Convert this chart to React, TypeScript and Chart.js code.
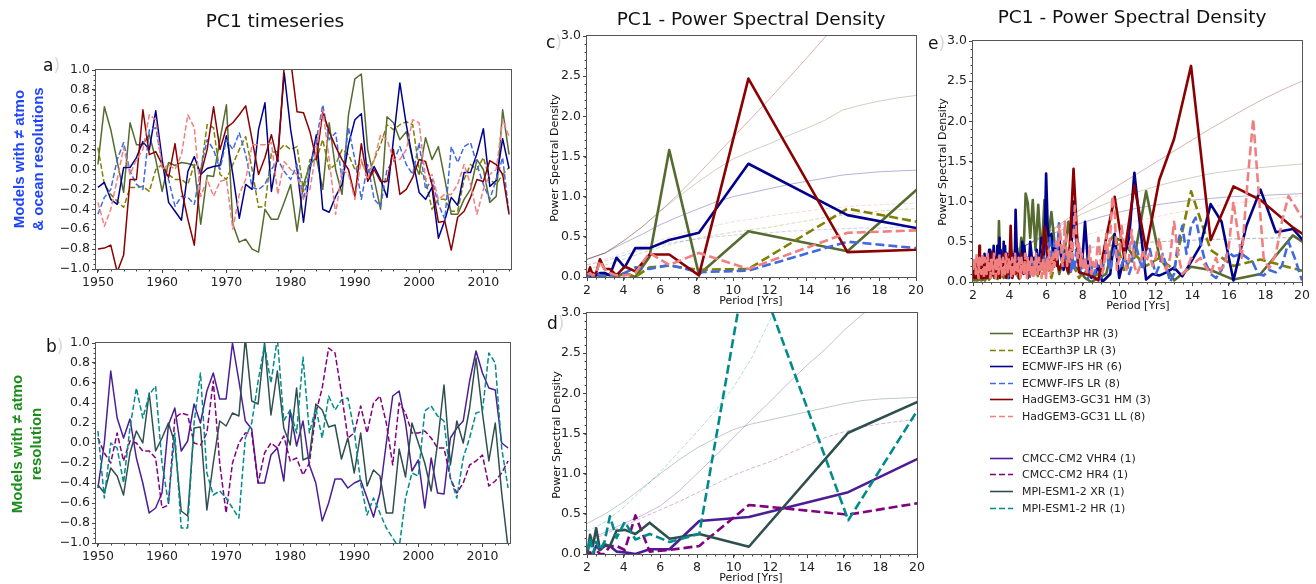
import React, { useEffect, useRef } from "react";
import { Chart, registerables } from "chart.js";

Chart.register(...registerables);

// ------------------------------------------------------------------ data
const years = [
  1950, 1951, 1952, 1953, 1954, 1955, 1956, 1957, 1958, 1959,
  1960, 1961, 1962, 1963, 1964, 1965, 1966, 1967, 1968, 1969,
  1970, 1971, 1972, 1973, 1974, 1975, 1976, 1977, 1978, 1979,
  1980, 1981, 1982, 1983, 1984, 1985, 1986, 1987, 1988, 1989,
  1990, 1991, 1992, 1993, 1994, 1995, 1996, 1997, 1998, 1999,
  2000, 2001, 2002, 2003, 2004, 2005, 2006, 2007, 2008, 2009,
  2010, 2011, 2012, 2013, 2014,
];
const yearTicks = [1950, 1960, 1970, 1980, 1990, 2000, 2010];
const pcTicks = [-1.0, -0.8, -0.6, -0.4, -0.2, 0.0, 0.2, 0.4, 0.6, 0.8, 1.0];
const psdTicks = [0, 0.5, 1.0, 1.5, 2.0, 2.5, 3.0];
const periodTicks = [2, 4, 6, 8, 10, 12, 14, 16, 18, 20];

// panel a: PC1 timeseries
const a_ecHR = [
  0.05, 0.63, 0.40, 0.08, -0.23, 0.47, 0.25, 0.25, 0.35, 0.10,
  -0.22, 0.07, 0.04, 0.07, 0.06, 0.04, -0.55, -0.06, -0.07, 0.30,
  0.65, -0.55, -0.73, -0.70, -0.80, -0.83, -0.40, -0.50, -0.50, -0.33,
  -0.15, -0.62, -0.15, 0.05, 0.12, -0.20, 0.47, 0.00, -0.25, 0.55,
  0.91, 0.96, 0.20, -0.10, -0.40, 0.53, 0.47, 0.30, 0.38, 0.10,
  -0.05, 0.32, 0.10, 0.23, -0.10, -0.45, -0.45, -0.30, -0.20, 0.10,
  0.00, -0.33, -0.27, 0.60, 0.15,
];
const a_ecLR = [
  0.22, -0.15, -0.25, -0.32, -0.38, -0.18, -0.18, -0.17, -0.22, 0.00,
  0.05, -0.05, -0.10, -0.10, -0.15, 0.05, -0.02, 0.45, 0.42, -0.05,
  -0.10, 0.05, 0.20, 0.33, 0.00, -0.38, -0.37, 0.17, 0.18, 0.25,
  0.20, 0.23, -0.22, 0.10, 0.10, 0.30, 0.00, 0.05, 0.20, 0.15,
  0.00, 0.08, -0.05, 0.10, 0.25, 0.45, 0.40, 0.45, 0.48, 0.45,
  0.00, -0.10, -0.40, -0.30, -0.30, -0.42, -0.42, -0.10, 0.05, 0.00,
  0.12, -0.10, -0.15, -0.05, 0.02,
];
const a_ifsHR = [
  -0.18, -0.13, -0.30, -0.35, 0.02, 0.02, 0.12, 0.28, 0.20, 0.59,
  0.10, -0.33, -0.42, -0.51, -0.02, 0.13, -0.05, 0.01, 0.03, 0.04,
  0.34, -0.05, -0.49, -0.15, -0.20, 0.40, 0.67, -0.22, 0.15, 0.97,
  0.40, 0.00, -0.53, 0.00, 0.35, -0.40, -0.43, -0.27, -0.15, 0.25,
  0.50, 0.56, -0.10, 0.03, -0.10, -0.28, 0.30, 0.87, 0.45, 0.10,
  -0.23, -0.30, -0.18, -0.69, -0.51, -0.28, -0.36, -0.03, -0.03, 0.16,
  0.41, -0.17, -0.11, 0.31, 0.01,
];
const a_ifsLR = [
  -0.45, -0.28, -0.20, 0.10, 0.27, -0.02, -0.15, -0.20, 0.40, 0.42,
  0.05, -0.10, -0.37, -0.27, -0.28, -0.35, 0.00, 0.30, 0.20, 0.00,
  0.30, 0.20, 0.37, 0.15, -0.18, -0.20, -0.15, 0.00, 0.10, -0.02,
  -0.10, 0.05, -0.30, 0.00, 0.30, 0.65, 0.30, 0.37, -0.10, 0.42,
  0.10, -0.30, 0.05, -0.30, -0.37, 0.00, 0.08, 0.23, 0.05, -0.05,
  0.27, -0.20, -0.10, -0.35, -0.50, 0.23, 0.07, 0.23, 0.27, 0.05,
  -0.15, -0.30, -0.10, 0.12, -0.45,
];
const a_hmHR = [
  -0.80, -0.79, -0.76, -1.03, -0.86, -0.10, -0.10, 0.60, 0.15, 0.18,
  0.05, -0.08, 0.26, -0.20, -0.50, -0.76, -0.05, 0.20, 0.63, 0.20,
  0.42, 0.47, 0.55, 0.64, 0.30, -0.05, 0.12, 0.35, 0.08, 1.05,
  1.10, 0.58, 0.57, 0.38, 0.10, 0.58, 0.38, 0.23, 0.10, 0.00,
  -0.27, 0.26, -0.12, 0.00, -0.12, -0.12, 0.20, -0.25, -0.20, -0.08,
  0.10, 0.08, -0.15, -0.53, -0.52, -0.81, -0.48, -0.42, -0.28, -0.10,
  -0.12, 0.09, 0.05, -0.05, -0.45,
];
const a_llLR = [
  -0.33, -0.57, -0.40, -0.10, 0.22, -0.05, 0.10, 0.20, 0.55, 0.50,
  0.00, 0.05, 0.00, 0.15, 0.55, 0.42, -0.27, -0.10, -0.27, -0.12,
  -0.10, -0.60, -0.25, -0.10, 0.25, 0.25, 0.25, 0.27, -0.25, 0.08,
  0.00, -0.05, -0.30, -0.20, 0.20, 0.60, 0.10, -0.45, 0.00, -0.05,
  -0.30, 0.10, -0.10, 0.10, 0.35, 0.30, 0.10, 0.10, 0.20, 0.50,
  0.47, -0.10, -0.05, -0.30, -0.25, -0.25, -0.15, 0.05, -0.15, -0.45,
  -0.20, -0.05, 0.00, 0.50, 0.33,
];

// panel b: PC1 timeseries
const b_cmVHR = [
  -0.45, 0.00, 0.72, 0.25, 0.05, 0.24, -0.15, -0.40, -0.70, -0.65,
  -0.50, 0.18, 0.35, -0.08, 0.02, 0.39, 0.20, 0.52, 0.70, 0.44,
  0.44, 1.00, 0.62, 0.22, 0.14, -0.40, -0.40, -0.12, -0.05, -0.38,
  0.32, -0.03, 0.22, -0.22, -0.40, -0.78, -0.60, -0.36, -0.36, -0.45,
  -0.40, -0.37, -0.55, -0.74, -0.50, 0.00, 0.47, 0.52, 0.20, -0.28,
  -0.17, -0.65, -0.15, -0.50, -0.51, 0.05, 0.15, 0.22, 0.62, 0.92,
  0.70, 0.55, 0.53, 0.00, -0.05,
];
const b_cmHR = [
  0.05, -0.10, -0.20, 0.10, -0.18, 0.02, 0.00, -0.08, -0.08, -0.15,
  -0.65, -0.62, 0.25, 0.30, 0.28, 0.00, -0.02, 0.10, 0.62, -0.20,
  -0.70, -0.20, 0.00, 0.10, 0.10, -0.40, -0.10, 0.00, -0.05, 0.07,
  -0.18, -0.15, -0.32, -0.20, 0.30, 0.55, 0.95, 0.90, 0.50, 0.05,
  0.10, 0.37, 0.10, 0.40, 0.47, 0.20, -0.22, 0.40, 0.30, 0.10,
  0.10, 0.12, 0.05, -0.05, -0.05, -0.35, -0.50, -0.40, -0.22, -0.18,
  -0.12, -0.43, -0.38, -0.30, -0.18,
];
const b_mpiXR = [
  -0.42, -0.50, -0.25, -0.33, -0.52, -0.10, 0.12, 0.00, 0.50, -0.08,
  0.05, 0.20, 0.00, -0.68, -0.73, 0.15, 0.16, -0.67, -0.20, 0.22,
  0.17, 0.30, 0.27, 1.05, 0.42, 0.39, 1.00, 0.28, 0.72, 0.15,
  -0.02, 0.55, -0.17, -0.14, 0.39, 0.33, 0.16, 0.18, -0.16, 0.05,
  -0.30, 0.10, -0.43, -0.27, -0.33, -0.70, -0.70, -0.06, -0.34, 0.20,
  0.00, -0.20, -0.48, 0.00, 0.58, -0.22, 0.22, 0.00, 0.35, 0.85,
  0.30, -0.18, 0.20, -0.50, -1.05,
];
const b_mpiHR = [
  0.12, -0.55, 0.00, -0.05, -0.40, 0.15, 0.55, 0.25, 0.48, 0.57,
  -0.20, -0.60, 0.10, -0.85, -0.85, 0.20, 0.70, -0.30, -0.52, -0.48,
  -0.55, -0.65, -0.75, 0.05, 0.20, 0.62, 0.98, 0.60, 1.05, 0.22,
  0.33, 0.10, 0.86, 0.10, 0.35, 0.05, 0.47, 0.33, 0.43, 0.45,
  0.12, -0.40, -0.72, -0.55, -0.70, -0.85, -0.95, -1.05, -0.55, -0.30,
  -0.33, 0.32, 0.37, 0.27, 0.22, -0.35, -0.55, -0.15, 0.05, 0.30,
  0.32, 0.90, 0.80, -0.05, -0.45,
];

// panels c, d: power spectra (ensemble-member periodogram periods, years)
const psdPeriods = [32.5, 16.25, 10.83, 8.125, 6.5, 5.417, 4.643, 4.063, 3.611, 3.25, 2.955, 2.708, 2.5, 2.321, 2.167, 2.031];
const c_ecHR = [3.61, 0.32, 0.57, 0.03, 1.58, 0.25, 0.0, 0.05, 0.0, 0.03, 0.02, 0.01, 0.03, 0.0, 0.02, 0.01];
const c_ecLR = [0.157, 0.85, 0.1, 0.09, 0.14, 0.12, 0.0, 0.04, 0.03, 0.02, 0.05, 0.02, 0.01, 0.02, 0.0, 0.01];
const c_ifsHR = [0.077, 0.77, 1.41, 0.55, 0.46, 0.36, 0.36, 0.12, 0.24, 0.02, 0.05, 0.05, 0.02, 0.05, 0.01, 0.0];
const c_ifsLR = [0.093, 0.44, 0.08, 0.06, 0.15, 0.1, 0.12, 0.05, 0.02, 0.03, 0.01, 0.02, 0.05, 0.01, 0.03, 0.0];
const c_hmHR = [0.44, 0.31, 2.47, 0.02, 0.28, 0.28, 0.07, 0.13, 0.02, 0.1, 0.1, 0.22, 0.05, 0.02, 0.12, 0.02];
const c_llLR = [0.68, 0.55, 0.1, 0.3, 0.15, 0.3, 0.05, 0.02, 0.02, 0.05, 0.1, 0.2, 0.05, 0.02, 0.05, 0.03];

const d_cmVHR = [2.55, 0.77, 0.46, 0.41, 0.06, 0.06, 0.0, 0.02, 0.03, 0.1, 0.1, 0.05, 0.1, 0.0, 0.0, 0.0];
const d_cmHR = [1.1, 0.49, 0.61, 0.1, 0.05, 0.03, 0.48, 0.05, 0.1, 0.1, 0.0, 0.0, 0.05, 0.0, 0.02, 0.0];
const d_mpiXR = [3.16, 1.51, 0.09, 0.25, 0.19, 0.39, 0.25, 0.3, 0.29, 0.1, 0.12, 0.05, 0.32, 0.1, 0.24, 0.0];
const d_mpiHR = [6.31, 0.42, 3.8, 0.25, 0.15, 0.25, 0.18, 0.4, 0.2, 0.47, 0.15, 0.05, 0.15, 0.0, 0.2, 0.05];

// red-noise significance curves
const sigPeriods = [2, 3, 4, 5, 6, 7, 8, 9, 10, 11, 12, 13, 14, 15, 16, 17, 18, 19, 20];
const cSig_ecHR = [0.22, 0.30, 0.45, 0.62, 0.82, 1.00, 1.17, 1.33, 1.47, 1.57, 1.66, 1.76, 1.85, 1.95, 2.08, 2.14, 2.19, 2.23, 2.26];
const cSig_ecLR = [0.10, 0.15, 0.22, 0.30, 0.37, 0.43, 0.48, 0.52, 0.56, 0.59, 0.62, 0.66, 0.70, 0.74, 0.77, 0.80, 0.82, 0.84, 0.85];
const cSig_ifsHR = [0.22, 0.30, 0.42, 0.53, 0.65, 0.75, 0.84, 0.93, 1.00, 1.05, 1.10, 1.15, 1.19, 1.23, 1.27, 1.29, 1.31, 1.32, 1.33];
const cSig_ifsLR = [0.15, 0.20, 0.27, 0.34, 0.40, 0.44, 0.47, 0.50, 0.52, 0.54, 0.55, 0.57, 0.58, 0.59, 0.60, 0.61, 0.61, 0.62, 0.62];
const cSig_hmHR = [0.22, 0.30, 0.45, 0.62, 0.82, 1.03, 1.26, 1.50, 1.74, 1.98, 2.22, 2.47, 2.72, 2.98, 3.23, 3.48, 3.70, 3.90, 4.10];
const cSig_llLR = [0.15, 0.22, 0.30, 0.38, 0.46, 0.53, 0.59, 0.64, 0.69, 0.72, 0.76, 0.79, 0.82, 0.85, 0.87, 0.89, 0.90, 0.91, 0.92];

const dSig_cmVHR = [0.18, 0.27, 0.38, 0.48, 0.60, 0.78, 1.00, 1.22, 1.45, 1.68, 1.90, 2.13, 2.35, 2.55, 2.78, 2.98, 3.15];
const dSig_cmHR = [0.15, 0.25, 0.35, 0.45, 0.55, 0.65, 0.76, 0.87, 0.98, 1.07, 1.15, 1.25, 1.35, 1.45, 1.52, 1.58, 1.62, 1.65, 1.68];
const dSig_mpiXR = [0.38, 0.50, 0.65, 0.82, 1.00, 1.17, 1.32, 1.44, 1.55, 1.62, 1.67, 1.72, 1.77, 1.82, 1.87, 1.91, 1.93, 1.94, 1.95];
const dSig_mpiHR = [0.28, 0.40, 0.58, 0.80, 1.02, 1.27, 1.52, 1.78, 2.08, 2.45, 2.92, 3.35, 3.75];

const eSig_ecHR = [0.22, 0.28, 0.36, 0.47, 0.60, 0.73, 0.85, 0.95, 1.04, 1.12, 1.19, 1.25, 1.30, 1.35, 1.38, 1.41, 1.43, 1.45, 1.47];
const eSig_ecLR = [0.12, 0.17, 0.22, 0.28, 0.33, 0.37, 0.41, 0.44, 0.46, 0.48, 0.50, 0.51, 0.52, 0.53, 0.54, 0.54, 0.55, 0.55, 0.55];
const eSig_ifsHR = [0.25, 0.30, 0.38, 0.47, 0.57, 0.66, 0.74, 0.81, 0.87, 0.92, 0.96, 0.99, 1.02, 1.04, 1.06, 1.07, 1.08, 1.09, 1.10];
const eSig_ifsLR = [0.15, 0.20, 0.25, 0.30, 0.35, 0.39, 0.42, 0.45, 0.47, 0.49, 0.50, 0.51, 0.52, 0.53, 0.53, 0.54, 0.54, 0.55, 0.55];
const eSig_hmHR = [0.22, 0.28, 0.36, 0.47, 0.60, 0.76, 0.92, 1.07, 1.21, 1.35, 1.49, 1.63, 1.77, 1.91, 2.04, 2.17, 2.29, 2.40, 2.50];
const eSig_llLR = [0.18, 0.22, 0.28, 0.35, 0.42, 0.50, 0.57, 0.64, 0.70, 0.76, 0.81, 0.86, 0.90, 0.94, 0.97, 1.00, 1.03, 1.05, 1.07];

// panel e: concatenated-member spectra
const ePeriods3 = [
  21.67, 19.5, 17.73, 16.25, 15, 13.93, 13, 12.19, 11.47, 10.83,
  10.26, 9.75, 9.29, 8.86, 8.48, 8.13, 7.8, 7.5, 7.22, 6.96,
  6.72, 6.5, 6.29, 6.09, 5.91, 5.74, 5.57, 5.42, 5.27, 5.13,
  5, 4.88, 4.76, 4.64, 4.53, 4.43, 4.33, 4.24, 4.15, 4.06,
  3.98, 3.9, 3.82, 3.75, 3.68, 3.61, 3.55, 3.48, 3.42, 3.36,
  3.31, 3.25, 3.2, 3.15, 3.1, 3.05, 3, 2.95, 2.91, 2.87,
  2.83, 2.79, 2.75, 2.71, 2.67, 2.64, 2.6, 2.57, 2.53, 2.5,
  2.47, 2.44, 2.41, 2.38, 2.35, 2.32, 2.29, 2.27, 2.24, 2.22,
  2.19, 2.17, 2.14, 2.12, 2.1, 2.07, 2.05, 2.03, 2.01,
];
const e_hmHR = [
  0.35, 0.68, 1.02, 1.19, 0.52, 2.69, 1.78, 1.27, 0.40, 1.20,
  0.32, 1.06, 0.55, 0.02, 0.08, 0.10, 0.12, 1.41, 0.12, 0.28,
  0.15, 0.30, 0.22, 0.30, 0.68, 0.20, 0.10, 0.25, 0.15, 0.20,
  0.05, 0.30, 0.10, 0.35, 0.05, 0.20, 0.10, 0.15, 0.05, 0.70,
  0.10, 0.30, 0.05, 0.20, 0.35, 0.10, 0.25, 0.05, 0.15, 0.30,
  0.05, 0.20, 0.10, 0.15, 0.08, 0.38, 0.10, 0.20, 0.05, 0.15,
  0.30, 0.10, 0.20, 0.05, 0.25, 0.10, 0.15, 0.05, 0.20, 0.10,
  0.30, 0.05, 0.15, 0.10, 0.45, 0.10, 0.20, 0.05, 0.15, 0.10,
  0.20, 0.05, 0.25, 0.10, 0.15, 0.05, 0.20, 0.10, 0.25,
];
const e_ecHR = [
  0.25, 0.58, 0.10, 0.03, 0.15, 0.19, 0.02, 0.32, 1.13, 0.30,
  0.50, 0.55, 0.10, 0.05, 0.00, 0.05, 0.15, 0.20, 0.75, 0.30,
  0.10, 0.40, 0.87, 0.50, 1.02, 0.30, 0.96, 0.40, 1.02, 0.55,
  0.98, 1.10, 0.30, 0.55, 0.20, 0.40, 0.15, 0.30, 0.10, 0.20,
  0.05, 0.25, 0.10, 0.30, 0.05, 0.20, 0.10, 0.25, 0.76, 0.10,
  0.20, 0.05, 0.15, 0.05, 0.20, 0.10, 0.15, 0.05, 0.12, 0.03,
  0.10, 0.05, 0.15, 0.05, 0.10, 0.02, 0.08, 0.03, 0.10, 0.05,
  0.12, 0.02, 0.08, 0.03, 0.10, 0.05, 0.12, 0.03, 0.08, 0.02,
  0.10, 0.05, 0.12, 0.03, 0.08, 0.02, 0.10, 0.05, 0.10,
];
const ePeriodsLR3 = [
  21.67, 19.5, 17.73, 16.25, 15, 13.93, 13, 12.19, 11.47, 10.83,
  10.26, 9.75, 9.29, 8.86, 8.48, 8.13, 7.8, 7.5, 7.22, 6.96,
  6.72, 6.5, 6.29, 6.09, 5.91, 5.74, 5.57, 5.42, 5.27, 5.13,
  5, 4.76, 4.53, 4.33, 4.15, 3.98, 3.82, 3.68, 3.55, 3.42,
  3.31, 3.2, 3.1, 3, 2.91, 2.83, 2.75, 2.67, 2.6, 2.53,
  2.47, 2.41, 2.35, 2.29, 2.24, 2.19, 2.14, 2.1, 2.05, 2.01,
];
const e_ecLR = [
  0.05, 0.17, 0.28, 0.20, 0.40, 1.13, 0.15, 0.30, 0.20, 0.35,
  0.15, 0.60, 0.45, 0.10, 0.05, 0.15, 0.05, 0.20, 0.10, 0.30,
  0.15, 0.25, 0.05, 0.20, 0.10, 0.30, 0.05, 0.20, 0.10, 0.15,
  0.05, 0.18, 0.04, 0.12, 0.22, 0.06, 0.14, 0.03, 0.17, 0.08,
  0.02, 0.13, 0.06, 0.19, 0.04, 0.09, 0.15, 0.02, 0.11, 0.07,
  0.16, 0.03, 0.10, 0.05, 0.13, 0.02, 0.09, 0.12, 0.04, 0.08,
];
// [period, density]
const e_ifsHR = [
  [21.0, 0.2], [20.53, 0.4], [19.5, 0.66], [18.57, 0.62], [17.73, 1.15], [16.96, 0.7], [16.25, 0.02], [15.6, 0.75],
  [15.0, 0.97], [14.44, 0.45], [13.93, 0.25], [13.45, 0.07], [13.0, 0.18], [12.58, 0.12], [12.19, 0.08], [11.82, 0.1],
  [11.47, 0.03], [11.14, 0.7], [10.83, 1.36], [10.54, 0.55], [10.26, 0.3], [10.0, 0.05], [9.75, 0.6], [9.51, 0.1],
  [9.29, 0.05], [9.07, 0.0], [8.86, 0.2], [8.67, 0.1], [8.48, 0.05], [8.3, 0.2], [8.13, 0.75], [7.96, 0.2],
  [7.8, 0.3], [7.65, 0.5], [7.5, 1.0], [7.36, 0.3], [7.22, 0.2], [7.09, 0.4], [6.96, 0.15], [6.84, 0.3],
  [6.72, 0.55], [6.61, 0.2], [6.5, 0.45], [6.39, 0.3], [6.29, 0.6], [6.19, 0.5], [6.09, 0.65], [6.0, 1.35],
  [5.91, 0.4], [5.82, 0.2], [5.74, 0.55], [5.65, 0.3], [5.57, 0.15], [5.49, 0.4], [5.42, 0.2], [5.34, 0.3],
  [5.27, 0.1], [5.2, 0.35], [5.13, 0.5], [5.06, 0.2], [5.0, 0.3], [4.94, 0.1], [4.88, 0.25], [4.81, 0.45],
  [4.76, 0.2], [4.7, 0.5], [4.64, 0.15], [4.59, 0.3], [4.53, 0.1], [4.48, 0.35], [4.43, 0.2], [4.38, 0.5],
  [4.33, 0.9], [4.29, 0.3], [4.24, 0.15], [4.19, 0.35], [4.15, 0.1], [4.1, 0.25], [4.06, 0.4], [4.02, 0.15],
  [3.98, 0.3], [3.94, 0.05], [3.9, 0.2], [3.86, 0.35], [3.82, 0.1], [3.79, 0.25], [3.75, 0.45], [3.71, 0.15],
  [3.68, 0.5], [3.64, 0.2], [3.61, 0.1], [3.58, 0.3], [3.55, 0.15], [3.51, 0.4], [3.48, 0.2], [3.45, 0.55],
  [3.42, 0.1], [3.39, 0.3], [3.36, 0.15], [3.33, 0.45], [3.28, 0.2], [3.23, 0.3], [3.18, 0.1], [3.13, 0.45],
  [3.08, 0.2], [3.03, 0.3], [2.98, 0.1], [2.93, 0.25], [2.88, 0.4], [2.83, 0.15], [2.78, 0.3], [2.73, 0.05],
  [2.68, 0.2], [2.63, 0.35], [2.58, 0.1], [2.53, 0.2], [2.48, 0.05], [2.43, 0.15], [2.38, 0.3], [2.33, 0.1],
  [2.28, 0.2], [2.23, 0.05], [2.18, 0.15], [2.13, 0.25], [2.08, 0.05], [2.03, 0.15],
];
const e_ifsLR = [
  [20.8, 0.1], [20.0, 0.02], [19.6, 0.3], [19.26, 0.5], [18.9, 0.2], [18.57, 0.12], [18.2, 0.15], [17.9, 0.08],
  [17.6, 0.1], [17.3, 0.25], [17.0, 0.3], [16.7, 0.35], [16.25, 0.32], [15.95, 0.38], [15.6, 0.15], [15.3, 0.05],
  [15.0, 0.1], [14.7, 0.25], [14.44, 0.5], [14.18, 0.8], [13.93, 0.7], [13.68, 0.35], [13.45, 0.7], [13.22, 0.5],
  [13.0, 0.1], [12.78, 0.0], [12.58, 0.2], [12.38, 0.35], [12.19, 0.2], [12.0, 0.1], [11.82, 0.25], [11.64, 0.45],
  [11.47, 0.4], [11.3, 0.15], [11.14, 0.25], [10.98, 0.4], [10.83, 0.5], [10.68, 0.2], [10.54, 0.1], [10.4, 0.25],
  [10.26, 0.3], [10.13, 0.2], [10.0, 0.28], [9.87, 0.4], [9.75, 0.42], [9.63, 0.3], [9.51, 0.15], [9.4, 0.25],
  [9.29, 0.45], [9.18, 0.3], [9.07, 0.1], [8.97, 0.05], [8.86, 0.15], [8.76, 0.25], [8.67, 0.1], [8.57, 0.05],
  [8.48, 0.2], [8.39, 0.1], [8.3, 0.05], [8.21, 0.15], [8.13, 0.1], [8.04, 0.3], [7.96, 0.2], [7.88, 0.1],
  [7.8, 0.35], [7.72, 0.25], [7.65, 0.4], [7.57, 0.2], [7.5, 0.15], [7.43, 0.3], [7.36, 0.1], [7.29, 0.2],
  [7.1, 0.4], [6.95, 0.2], [6.8, 0.45], [6.7, 0.73], [6.6, 0.3], [6.45, 0.5], [6.3, 0.25], [6.2, 0.55],
  [6.1, 0.35], [5.95, 0.2], [5.8, 0.45], [5.7, 0.15], [5.55, 0.3], [5.4, 0.1], [5.25, 0.25], [5.1, 0.05],
  [4.95, 0.3], [4.8, 0.15], [4.65, 0.2], [4.5, 0.05], [4.35, 0.25], [4.2, 0.1], [4.05, 0.2], [3.9, 0.05],
  [3.75, 0.15], [3.6, 0.3], [3.45, 0.1], [3.3, 0.2], [3.15, 0.05], [3.0, 0.15], [2.85, 0.1], [2.7, 0.2],
  [2.55, 0.05], [2.4, 0.12], [2.25, 0.05], [2.1, 0.15], [2.0, 0.05],
];
const e_llLR = [
  [20.8, 0.55], [20.0, 0.8], [19.6, 0.95], [19.26, 1.07], [18.9, 0.75], [18.57, 0.35], [18.2, 0.17], [17.9, 0.3],
  [17.6, 1.2], [17.33, 2.03], [17.0, 1.2], [16.7, 0.3], [16.5, 0.6], [16.25, 1.0], [16.0, 0.45], [15.75, 0.2],
  [15.5, 0.15], [15.3, 0.3], [15.0, 0.1], [14.7, 0.2], [14.44, 0.3], [14.18, 0.25], [13.93, 0.3], [13.68, 0.15],
  [13.45, 0.1], [13.22, 0.35], [13.0, 0.75], [12.78, 0.3], [12.58, 0.15], [12.38, 0.25], [12.19, 0.55], [12.0, 0.3],
  [11.82, 0.2], [11.64, 0.35], [11.47, 0.25], [11.3, 0.4], [11.14, 0.2], [10.98, 0.1], [10.83, 0.2], [10.68, 0.65],
  [10.54, 0.3], [10.4, 0.15], [10.26, 0.45], [10.13, 0.7], [10.0, 0.3], [9.87, 0.15], [9.75, 0.9], [9.63, 1.07],
  [9.51, 0.6], [9.4, 0.3], [9.29, 0.6], [9.18, 0.2], [9.07, 0.1], [8.97, 0.3], [8.86, 0.55], [8.76, 0.3],
  [8.67, 0.15], [8.57, 0.25], [8.48, 0.1], [8.39, 0.45], [8.3, 0.2], [8.21, 0.1], [8.13, 0.3], [8.04, 0.15],
  [7.96, 0.35], [7.88, 0.2], [7.8, 0.5], [7.72, 0.3], [7.65, 0.6], [7.57, 0.95], [7.5, 0.6], [7.43, 0.3],
  [7.36, 0.5], [7.29, 0.25], [7.22, 0.4], [7.15, 0.2], [7.09, 0.55], [7.02, 0.75], [6.96, 0.35], [6.9, 0.2],
  [6.84, 0.4], [6.78, 0.6], [6.72, 0.7], [6.66, 0.35], [6.6, 0.25], [6.55, 0.5], [6.5, 0.3], [6.45, 0.2],
  [6.4, 0.35], [6.35, 0.15], [6.3, 0.3], [6.25, 0.1], [6.2, 0.25], [6.15, 0.4], [6.1, 0.15], [6.05, 0.3],
  [6.0, 0.05], [5.95, 0.25], [5.9, 0.1], [5.85, 0.3], [5.8, 0.2], [5.75, 0.05], [5.7, 0.25], [5.65, 0.15],
  [5.6, 0.3], [5.55, 0.1], [5.5, 0.2], [5.45, 0.35], [5.4, 0.1], [5.35, 0.25], [5.3, 0.05], [5.25, 0.2],
  [5.2, 0.3], [5.15, 0.1], [5.1, 0.25], [5.05, 0.15], [5.0, 0.3], [4.95, 0.05], [4.9, 0.2], [4.85, 0.35],
  [4.8, 0.1], [4.75, 0.25], [4.7, 0.15], [4.65, 0.3], [4.6, 0.05], [4.55, 0.2], [4.5, 0.3], [4.45, 0.1],
  [4.4, 0.25], [4.35, 0.15], [4.3, 0.35], [4.25, 0.1], [4.2, 0.2], [4.15, 0.3], [4.1, 0.05], [4.05, 0.25],
  [4.0, 0.15], [3.95, 0.3], [3.9, 0.1], [3.85, 0.25], [3.8, 0.35], [3.75, 0.1], [3.7, 0.2], [3.65, 0.3],
  [3.6, 0.05], [3.55, 0.25], [3.5, 0.15], [3.45, 0.35], [3.4, 0.1], [3.35, 0.2], [3.3, 0.3], [3.25, 0.05],
  [3.2, 0.25], [3.15, 0.35], [3.1, 0.1], [3.05, 0.2], [3.0, 0.3], [2.95, 0.05], [2.9, 0.25], [2.85, 0.15],
  [2.8, 0.35], [2.75, 0.1], [2.7, 0.2], [2.65, 0.3], [2.6, 0.05], [2.55, 0.25], [2.5, 0.35], [2.45, 0.1],
  [2.4, 0.2], [2.35, 0.3], [2.3, 0.05], [2.25, 0.25], [2.2, 0.35], [2.15, 0.1], [2.1, 0.2], [2.05, 0.3],
  [2.0, 0.15],
];

const legendTop = ["ECEarth3P HR (3)", "ECEarth3P LR (3)", "ECMWF-IFS HR (6)", "ECMWF-IFS LR (8)", "HadGEM3-GC31 HM (3)", "HadGEM3-GC31 LL (8)"];
const legendBottom = ["CMCC-CM2 VHR4 (1)", "CMCC-CM2 HR4 (1)", "MPI-ESM1-2 XR (1)", "MPI-ESM1-2 HR (1)"];

// ------------------------------------------------------------------ styles
const COL = {
  ecHR: "#556B2F",
  ecLR: "#808000",
  ifsHR: "#00008B",
  ifsLR: "#4169E1",
  hmHR: "#8B0000",
  llLR: "#F08080",
  cmVHR: "#4B1E96",
  cmHR: "#800080",
  mpiXR: "#2F4F4F",
  mpiHR: "#008B8B",
};
const TS_W = 1.5;
const TS_DASH = [5.5, 2.5];
const PSD_W = 2.6;
const PSD_DASH = [9, 4];
const SIG_W = 1;
const SIG_DASH = [4, 2];
const FONT = "'DejaVu Sans', 'Noto Sans', sans-serif";
const TICK_SIZE = 12.5;

function rgba(hex: string, a: number) {
  const r = parseInt(hex.slice(1, 3), 16);
  const g = parseInt(hex.slice(3, 5), 16);
  const b = parseInt(hex.slice(5, 7), 16);
  return `rgba(${r},${g},${b},${a})`;
}

function pts(xs: number[], ys: number[]) {
  const n = Math.min(xs.length, ys.length);
  const out: { x: number; y: number }[] = [];
  for (let i = 0; i < n; i++) out.push({ x: xs[i], y: ys[i] });
  out.sort((p, q) => p.x - q.x);
  return out;
}
function pairPts(pairs: number[][]) {
  return pairs.map((p) => ({ x: p[0], y: p[1] })).sort((p, q) => p.x - q.x);
}

function ds(data: any[], color: string, width: number, dash?: number[]) {
  return {
    data,
    borderColor: color,
    backgroundColor: color,
    borderWidth: width,
    borderDash: dash || [],
    pointRadius: 0,
    pointHoverRadius: 0,
    pointHitRadius: 0,
    fill: false,
    tension: 0,
    borderCapStyle: "butt",
    borderJoinStyle: "round",
  };
}

const framePlugin = {
  id: "frame",
  afterDraw(chart: any, _args: any, opts: any) {
    const { ctx, chartArea: a, scales } = chart;
    const xs = scales.x;
    const ys = scales.y;
    ctx.save();
    ctx.strokeStyle = "#444";
    ctx.lineWidth = 1;
    ctx.beginPath();
    if (opts && opts.xMinor) {
      const st = opts.xMinor;
      const k0 = Math.ceil(xs.min / st - 1e-9);
      for (let k = k0; k * st <= xs.max + 1e-9; k++) {
        const px = Math.round(xs.getPixelForValue(k * st)) + 0.5;
        ctx.moveTo(px, a.bottom);
        ctx.lineTo(px, a.bottom + 2.5);
      }
    }
    if (opts && opts.yMinor) {
      const st = opts.yMinor;
      const k0 = Math.ceil(ys.min / st - 1e-9);
      for (let k = k0; k * st <= ys.max + 1e-9; k++) {
        const py = Math.round(ys.getPixelForValue(k * st)) + 0.5;
        ctx.moveTo(a.left, py);
        ctx.lineTo(a.left - 2.5, py);
      }
    }
    ctx.stroke();
    ctx.strokeStyle = "#555";
    ctx.strokeRect(
      Math.round(a.left) - 0.5,
      Math.round(a.top) - 0.5,
      Math.round(a.right - a.left) + 1,
      Math.round(a.bottom - a.top) + 1
    );
    ctx.restore();
  },
};

function axis(min: number, max: number, ticks: number[], fmt: (v: number) => string, size: number, isX: boolean) {
  return {
    type: "linear",
    min,
    max,
    afterBuildTicks: (s: any) => {
      s.ticks = ticks.map((v) => ({ value: v }));
    },
    afterFit: (s: any) => {
      if (isX) s.height = size;
      else s.width = size;
    },
    ticks: {
      font: { family: FONT, size: TICK_SIZE },
      color: "#222",
      padding: 2,
      autoSkip: false,
      maxRotation: 0,
      minRotation: 0,
      includeBounds: false,
      callback: (v: any) => fmt(Number(v)),
    },
    grid: { display: true, drawOnChartArea: false, drawTicks: true, tickLength: 4, color: "#444", lineWidth: 1 },
    border: { display: false },
  };
}

const fmtPC = (v: number) => (Math.abs(v) < 1e-9 ? "0.0" : v.toFixed(1).replace("-", "\u2212"));
const fmtInt = (v: number) => String(Math.round(v));
const fmt1 = (v: number) => v.toFixed(1);

function makeConfig(datasets: any[], x: any, y: any, pad: any, minor: any) {
  return {
    type: "line",
    data: { datasets: datasets.slice().reverse() },
    options: {
      responsive: false,
      maintainAspectRatio: false,
      animation: false,
      devicePixelRatio: 1,
      events: [],
      layout: { padding: pad },
      plugins: { legend: { display: false }, tooltip: { enabled: false }, frame: minor },
      scales: { x, y },
    },
    plugins: [framePlugin],
  };
}

function tsConfig(datasets: any[]) {
  return makeConfig(
    datasets,
    axis(1949.7, 2014.3, yearTicks, fmtInt, 21, true),
    axis(-1, 1, pcTicks, fmtPC, 50, false),
    { left: 0, top: 10, right: 10, bottom: 0 },
    { xMinor: 2, yMinor: 0.05 }
  );
}
function psdConfig(datasets: any[]) {
  return makeConfig(
    datasets,
    axis(2, 20, periodTicks, fmtInt, 20, true),
    axis(0, 3, psdTicks, fmt1, 40, false),
    { left: 0, top: 10, right: 10, bottom: 0 },
    { xMinor: 0.5, yMinor: 0.1 }
  );
}

const configA = () =>
  tsConfig([
    ds(pts(years, a_ecHR), COL.ecHR, TS_W),
    ds(pts(years, a_ecLR), COL.ecLR, TS_W, TS_DASH),
    ds(pts(years, a_ifsHR), COL.ifsHR, TS_W),
    ds(pts(years, a_ifsLR), COL.ifsLR, TS_W, TS_DASH),
    ds(pts(years, a_hmHR), COL.hmHR, TS_W),
    ds(pts(years, a_llLR), COL.llLR, TS_W, TS_DASH),
  ]);

const configB = () =>
  tsConfig([
    ds(pts(years, b_cmVHR), COL.cmVHR, TS_W),
    ds(pts(years, b_cmHR), COL.cmHR, TS_W, TS_DASH),
    ds(pts(years, b_mpiXR), COL.mpiXR, TS_W),
    ds(pts(years, b_mpiHR), COL.mpiHR, TS_W, TS_DASH),
  ]);

const configC = () =>
  psdConfig([
    ds(pts(sigPeriods, cSig_ecHR), rgba(COL.ecHR, 0.3), SIG_W),
    ds(pts(sigPeriods, cSig_ecLR), rgba(COL.ecLR, 0.3), SIG_W, SIG_DASH),
    ds(pts(sigPeriods, cSig_ifsHR), rgba(COL.ifsHR, 0.3), SIG_W),
    ds(pts(sigPeriods, cSig_ifsLR), rgba(COL.ifsLR, 0.3), SIG_W, SIG_DASH),
    ds(pts(sigPeriods, cSig_hmHR), rgba(COL.hmHR, 0.3), SIG_W),
    ds(pts(sigPeriods, cSig_llLR), rgba(COL.llLR, 0.3), SIG_W, SIG_DASH),
    ds(pts(psdPeriods, c_ecHR), COL.ecHR, PSD_W),
    ds(pts(psdPeriods, c_ecLR), COL.ecLR, PSD_W, PSD_DASH),
    ds(pts(psdPeriods, c_ifsHR), COL.ifsHR, PSD_W),
    ds(pts(psdPeriods, c_ifsLR), COL.ifsLR, PSD_W, PSD_DASH),
    ds(pts(psdPeriods, c_hmHR), COL.hmHR, PSD_W),
    ds(pts(psdPeriods, c_llLR), COL.llLR, PSD_W, PSD_DASH),
  ]);

const configD = () =>
  psdConfig([
    ds(pts(sigPeriods, dSig_cmVHR), rgba(COL.cmVHR, 0.3), SIG_W),
    ds(pts(sigPeriods, dSig_cmHR), rgba(COL.cmHR, 0.3), SIG_W, SIG_DASH),
    ds(pts(sigPeriods, dSig_mpiXR), rgba(COL.mpiXR, 0.3), SIG_W),
    ds(pts(sigPeriods, dSig_mpiHR), rgba(COL.mpiHR, 0.3), SIG_W, SIG_DASH),
    ds(pts(psdPeriods, d_cmVHR), COL.cmVHR, PSD_W),
    ds(pts(psdPeriods, d_cmHR), COL.cmHR, PSD_W, PSD_DASH),
    ds(pts(psdPeriods, d_mpiXR), COL.mpiXR, PSD_W),
    ds(pts(psdPeriods, d_mpiHR), COL.mpiHR, PSD_W, PSD_DASH),
  ]);

const configE = () =>
  psdConfig([
    ds(pts(sigPeriods, eSig_ecHR), rgba(COL.ecHR, 0.3), SIG_W),
    ds(pts(sigPeriods, eSig_ecLR), rgba(COL.ecLR, 0.3), SIG_W, SIG_DASH),
    ds(pts(sigPeriods, eSig_ifsHR), rgba(COL.ifsHR, 0.3), SIG_W),
    ds(pts(sigPeriods, eSig_ifsLR), rgba(COL.ifsLR, 0.3), SIG_W, SIG_DASH),
    ds(pts(sigPeriods, eSig_hmHR), rgba(COL.hmHR, 0.3), SIG_W),
    ds(pts(sigPeriods, eSig_llLR), rgba(COL.llLR, 0.3), SIG_W, SIG_DASH),
    ds(pts(ePeriods3, e_ecHR), COL.ecHR, PSD_W),
    ds(pts(ePeriodsLR3, e_ecLR), COL.ecLR, PSD_W, PSD_DASH),
    ds(pairPts(e_ifsHR), COL.ifsHR, PSD_W),
    ds(pairPts(e_ifsLR), COL.ifsLR, PSD_W, PSD_DASH),
    ds(pts(ePeriods3, e_hmHR), COL.hmHR, PSD_W),
    ds(pairPts(e_llLR), COL.llLR, PSD_W, PSD_DASH),
  ]);

// ------------------------------------------------------------------ components
function ChartCanvas(props: { x: number; y: number; w: number; h: number; make: () => any }) {
  const ref = useRef<HTMLCanvasElement | null>(null);
  useEffect(() => {
    const chart = new Chart(ref.current as HTMLCanvasElement, props.make());
    return () => chart.destroy();
  }, []);
  return (
    <canvas
      ref={ref}
      width={props.w}
      height={props.h}
      style={{ position: "absolute", left: props.x, top: props.y, width: props.w, height: props.h }}
    />
  );
}

function Text(props: { x: number; y: number; size: number; children: any; style?: any }) {
  return (
    <div
      style={{
        position: "absolute",
        left: props.x,
        top: props.y,
        fontSize: props.size,
        lineHeight: props.size + "px",
        whiteSpace: "nowrap",
        fontFamily: FONT,
        color: "#111",
        ...(props.style || {}),
      }}
    >
      {props.children}
    </div>
  );
}

function Centered(props: { cx: number; y: number; size: number; children: any }) {
  return (
    <div
      style={{
        position: "absolute",
        left: props.cx - 300,
        width: 600,
        top: props.y,
        textAlign: "center",
        fontSize: props.size,
        lineHeight: props.size + "px",
        whiteSpace: "nowrap",
        fontFamily: FONT,
        color: "#111",
      }}
    >
      {props.children}
    </div>
  );
}

function Rotated(props: { cx: number; cy: number; size: number; children: any; style?: any }) {
  return (
    <div
      style={{
        position: "absolute",
        left: props.cx,
        top: props.cy,
        transform: "translate(-50%, -50%) rotate(-90deg)",
        fontSize: props.size,
        whiteSpace: "nowrap",
        textAlign: "center",
        fontFamily: FONT,
        color: "#111",
        ...(props.style || {}),
      }}
    >
      {props.children}
    </div>
  );
}

function Letter(props: { x: number; y: number; ch: string }) {
  return (
    <Text x={props.x} y={props.y} size={17}>
      {props.ch}
      <span style={{ color: "#d8d8d8" }}>)</span>
    </Text>
  );
}

const legendTopStyle = [
  { c: COL.ecHR, d: "" },
  { c: COL.ecLR, d: "6 3" },
  { c: COL.ifsHR, d: "" },
  { c: COL.ifsLR, d: "6 3" },
  { c: COL.hmHR, d: "" },
  { c: COL.llLR, d: "6 3" },
];
const legendBottomStyle = [
  { c: COL.cmVHR, d: "" },
  { c: COL.cmHR, d: "6 3" },
  { c: COL.mpiXR, d: "" },
  { c: COL.mpiHR, d: "6 3" },
];
const legendTopY = [333, 350, 366, 383, 399, 416];
const legendBottomY = [458, 474, 491, 508];

export default function App() {
  const rows = [
    ...legendTop.map((t, i) => ({ t, y: legendTopY[i], ...legendTopStyle[i] })),
    ...legendBottom.map((t, i) => ({ t, y: legendBottomY[i], ...legendBottomStyle[i] })),
  ];
  return (
    <div
      style={{
        position: "absolute",
        left: 0,
        top: 0,
        width: 1316,
        height: 584,
        background: "#fff",
        overflow: "hidden",
      }}
    >
      <ChartCanvas x={46} y={60} w={475} h={230} make={configA} />
      <ChartCanvas x={46} y={333} w={474} h={231} make={configB} />
      <ChartCanvas x={547} y={26} w={379} h={271} make={configC} />
      <ChartCanvas x={547} y={303} w={380} h={271} make={configD} />
      <ChartCanvas x={933} y={31} w={379} h={271} make={configE} />

      <Centered cx={275} y={12} size={18.5}>PC1 timeseries</Centered>
      <Centered cx={751} y={10} size={18.5}>PC1 - Power Spectral Density</Centered>
      <Centered cx={1132} y={8} size={18.5}>PC1 - Power Spectral Density</Centered>

      <Letter x={43} y={57} ch="a" />
      <Letter x={46} y={338} ch="b" />
      <Letter x={546} y={34} ch="c" />
      <Letter x={547} y={315} ch="d" />
      <Letter x={928} y={35} ch="e" />

      <Rotated
        cx={27.5}
        cy={159}
        size={15}
        style={{ color: "#1f45fc", fontWeight: "bold", lineHeight: "19px", fontFamily: "'Liberation Sans', Arial, 'DejaVu Sans', sans-serif" }}
      >
        Models with {"\u2260"} atmo
        <br />& ocean resolutions
      </Rotated>
      <Rotated
        cx={26}
        cy={444}
        size={15}
        style={{ color: "#1a8c1a", fontWeight: "bold", lineHeight: "19px", fontFamily: "'Liberation Sans', Arial, 'DejaVu Sans', sans-serif" }}
      >
        Models with {"\u2260"} atmo
        <br />resolution
      </Rotated>

      <Rotated cx={554} cy={158} size={11}>Power Spectral Density</Rotated>
      <Rotated cx={556} cy={435} size={11}>Power Spectral Density</Rotated>
      <Rotated cx={942} cy={162} size={11}>Power Spectral Density</Rotated>

      <Centered cx={751} y={295} size={11}>Period [Yrs]</Centered>
      <Centered cx={751} y={572} size={11}>Period [Yrs]</Centered>
      <Centered cx={1138} y={300} size={11}>Period [Yrs]</Centered>

      <svg
        width={1316}
        height={584}
        style={{ position: "absolute", left: 0, top: 0, pointerEvents: "none" }}
      >
        {rows.map((r, i) => (
          <line
            key={i}
            x1={990}
            x2={1013}
            y1={r.y + 0.5}
            y2={r.y + 0.5}
            stroke={r.c}
            strokeWidth={1.6}
            strokeDasharray={r.d || undefined}
          />
        ))}
      </svg>
      {rows.map((r, i) => (
        <Text key={i} x={1022} y={r.y - 5.5} size={11} style={{ color: "#222" }}>
          {r.t}
        </Text>
      ))}
    </div>
  );
}
